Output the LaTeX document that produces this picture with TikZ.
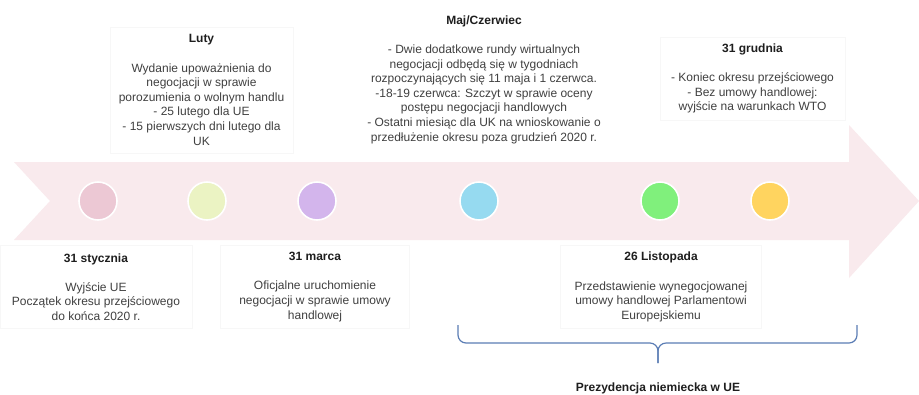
\documentclass[tikz,border=0pt]{standalone}
\usepackage{fontspec}
\setmainfont{Liberation Sans}
\definecolor{arrowpink}{HTML}{F9EAED}
\definecolor{txtgray}{HTML}{404040}
\definecolor{headgray}{HTML}{1E1E1E}
\definecolor{bracecol}{HTML}{5B7DB5}
\definecolor{dotpink}{HTML}{ECC8D4}
\definecolor{dotlime}{HTML}{EBF3C3}
\definecolor{dotlilac}{HTML}{D3B5EC}
\definecolor{dotsky}{HTML}{96DAF0}
\definecolor{dotgreen}{HTML}{80F07C}
\definecolor{dotamber}{HTML}{FFD45F}
\newcommand{\hd}[1]{\textbf{\color{headgray}#1}}
\begin{document}
\begin{tikzpicture}[x=0.75pt,y=-0.75pt,
  every node/.style={font=\fontsize{9}{10.95}\selectfont,text=txtgray,align=center},
  stage/.style={draw=black!3,fill=white,inner sep=0pt},
  dot/.style={circle,draw=white,line width=1.2pt,minimum size=28.5pt,inner sep=0pt}]
\useasboundingbox[fill=white] (0,0) rectangle (919,394);
% the timeline arrow
\fill[arrowpink] (14,162) -- (849,162) -- (849,125) -- (919,201) -- (849,278) -- (849,240) -- (14,240) -- (50,201) -- cycle;
% events above the arrow
\node[stage,minimum width=137pt,minimum height=94.5pt] (luty) at (201.5,90) {\hd{Luty}\\[10.95pt]Wydanie upoważnienia do\\negocjacji w sprawie\\porozumienia o wolnym handlu\\- 25 lutego dla UE\\- 15 pierwszych dni lutego dla\\UK};
\node (maj) at (484,79.5) {\hd{Maj/Czerwiec}\\[10.95pt]- Dwie dodatkowe rundy wirtualnych\\negocjacji odbędą się w tygodniach\\rozpoczynających się 11 maja i 1 czerwca.\\-18-19 czerwca: Szczyt w sprawie oceny\\postępu negocjacji handlowych\\- Ostatni miesiąc dla UK na wnioskowanie o\\przedłużenie okresu poza grudzień 2020 r.};
\node[stage,minimum width=139pt,minimum height=62pt] (grudzien) at (752.5,78.5) {\hd{31 grudnia}\\[10.95pt]- Koniec okresu przejściowego\\- Bez umowy handlowej:\\wyjście na warunkach WTO};
% dots on the arrow
\node[dot,fill=dotpink] (d1) at (98,201) {};
\node[dot,fill=dotlime] (d2) at (207,201) {};
\node[dot,fill=dotlilac] (d3) at (317,201) {};
\node[dot,fill=dotsky] (d4) at (479,201) {};
\node[dot,fill=dotgreen] (d5) at (660,201) {};
\node[dot,fill=dotamber] (d6) at (770,201) {};
% events below the arrow
\node[stage,minimum width=144pt,minimum height=62pt] (styczen) at (96,287) {\hd{31 stycznia}\\[10.95pt]Wyjście UE\\Początek okresu przejściowego\\do końca 2020 r.};
\node[stage,minimum width=142pt,minimum height=62pt] (marzec) at (315,287) {\hd{31 marca}\\[10.95pt]Oficjalne uruchomienie\\negocjacji w sprawie umowy\\handlowej};
\node[stage,minimum width=151pt,minimum height=62pt] (listopad) at (661,287) {\hd{26 Listopada}\\[10.95pt]Przedstawienie wynegocjowanej\\umowy handlowej Parlamentowi\\Europejskiemu};
% presidency brace
\coordinate (bl) at (458,325);
\coordinate (br) at (857,325);
\coordinate (bm) at (658,343);
\coordinate (tip) at (658,363);
\draw[bracecol,line width=0.9pt,rounded corners=6pt] (bl) |- (bm) -- (tip);
\draw[bracecol,line width=0.9pt,rounded corners=6pt] (br) |- (bm) -- (tip);
\node (prez) at (658,388) {\hd{Prezydencja niemiecka w UE}};
\end{tikzpicture}
\end{document}
